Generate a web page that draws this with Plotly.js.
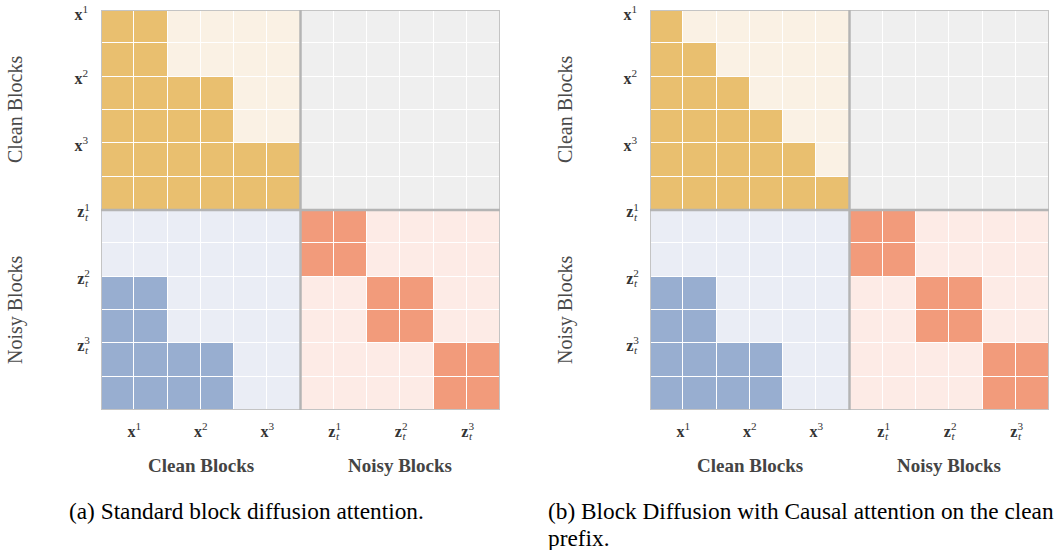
<!DOCTYPE html>
<html>
<head>
<meta charset="utf-8">
<script src="https://cdn.plot.ly/plotly-3.0.1.min.js"></script>
<style>html,body{margin:0;padding:0;background:#fff;}#chart{width:1058px;height:550px;}</style>
</head>
<body>
<div id="chart"></div>
<script>
// Cell codes: 0 = clean->noisy (no attention), 1 = clean masked, 2 = clean attended,
// 3 = noisy->clean masked, 4 = noisy->clean attended, 5 = noisy->noisy masked, 6 = noisy->noisy attended
const maskA = [
  [2,2,1,1,1,1, 0,0,0,0,0,0],
  [2,2,1,1,1,1, 0,0,0,0,0,0],
  [2,2,2,2,1,1, 0,0,0,0,0,0],
  [2,2,2,2,1,1, 0,0,0,0,0,0],
  [2,2,2,2,2,2, 0,0,0,0,0,0],
  [2,2,2,2,2,2, 0,0,0,0,0,0],
  [3,3,3,3,3,3, 6,6,5,5,5,5],
  [3,3,3,3,3,3, 6,6,5,5,5,5],
  [4,4,3,3,3,3, 5,5,6,6,5,5],
  [4,4,3,3,3,3, 5,5,6,6,5,5],
  [4,4,4,4,3,3, 5,5,5,5,6,6],
  [4,4,4,4,3,3, 5,5,5,5,6,6]
];
const maskB = [
  [2,1,1,1,1,1, 0,0,0,0,0,0],
  [2,2,1,1,1,1, 0,0,0,0,0,0],
  [2,2,2,1,1,1, 0,0,0,0,0,0],
  [2,2,2,2,1,1, 0,0,0,0,0,0],
  [2,2,2,2,2,1, 0,0,0,0,0,0],
  [2,2,2,2,2,2, 0,0,0,0,0,0],
  [3,3,3,3,3,3, 6,6,5,5,5,5],
  [3,3,3,3,3,3, 6,6,5,5,5,5],
  [4,4,3,3,3,3, 5,5,6,6,5,5],
  [4,4,3,3,3,3, 5,5,6,6,5,5],
  [4,4,4,4,3,3, 5,5,5,5,6,6],
  [4,4,4,4,3,3, 5,5,5,5,6,6]
];
const cellIndex = [0,1,2,3,4,5,6,7,8,9,10,11];
const codeColors = ['#efefef','#faf1e4','#e9bf6f','#eaedf5','#98aed0','#fdebe6','#f29b7b'];
const blockTickText = [
  '<b>x</b><sup>1</sup>', '<b>x</b><sup>2</sup>', '<b>x</b><sup>3</sup>',
  '<b>z</b><sup><span style="letter-spacing:-5px">1</span></sup><sub><i>t</i></sub>',
  '<b>z</b><sup><span style="letter-spacing:-5px">2</span></sup><sub><i>t</i></sub>',
  '<b>z</b><sup><span style="letter-spacing:-5px">3</span></sup><sub><i>t</i></sub>'
];
const xTickVals = [0.5, 2.5, 4.5, 6.5, 8.5, 10.5];
const yTickVals = [-0.38, 1.55, 3.55, 5.55, 7.55, 9.55];
const groupLabels = ['Clean Blocks', 'Noisy Blocks'];
const groupCenters = [2.5, 8.5];
const captionA = ['(a) Standard block diffusion attention.'];
const captionB = ['(b) Block Diffusion with Causal attention on the clean', 'prefix.'];

const W = 1058, H = 550;
const SERIF = '"Liberation Serif", "Times New Roman", Times, serif';
const colorscale = codeColors.map((c, i) => [i / (codeColors.length - 1), c]);

function hm(z, xa, ya) {
  return {
    type: 'heatmap', z: z, x: cellIndex, y: cellIndex,
    xaxis: xa, yaxis: ya, zmin: 0, zmax: codeColors.length - 1,
    colorscale: colorscale, showscale: false, xgap: 1, ygap: 1, hoverinfo: 'skip'
  };
}

const tickFont = {family: SERIF, size: 16, color: '#333'};
function xax(domain, anchor) {
  return {domain: domain, anchor: anchor, range: [-0.5, 11.5], tickvals: xTickVals, ticktext: blockTickText,
    showgrid: false, zeroline: false, ticks: '', tickfont: tickFont, ticklabelstandoff: 10, fixedrange: true};
}
function yax(domain, anchor) {
  return {domain: domain, anchor: anchor, range: [11.5, -0.5], tickvals: yTickVals, ticktext: blockTickText,
    showgrid: false, zeroline: false, ticks: '', tickfont: tickFont, ticklabelstandoff: 12, fixedrange: true};
}

const yDom = [1 - 410 / H, 1 - 10 / H];
const layout = {
  width: W, height: H, margin: {l: 0, r: 0, t: 0, b: 0},
  paper_bgcolor: '#fff', plot_bgcolor: '#fff', showlegend: false,
  font: {family: SERIF},
  xaxis: xax([101 / W, 500 / W], 'y'),
  yaxis: yax(yDom, 'x'),
  xaxis2: xax([650 / W, 1049 / W], 'y2'),
  yaxis2: yax(yDom, 'x2'),
  shapes: [], annotations: []
};

[['x', 'y'], ['x2', 'y2']].forEach(([xr, yr], p) => {
  layout.shapes.push({type: 'rect', xref: xr, yref: yr, x0: -0.5, x1: 11.5, y0: -0.5, y1: 11.5,
    line: {color: '#c4c4c4', width: 2}, layer: 'above'});
  layout.shapes.push({type: 'line', xref: xr, yref: yr, x0: 5.5, x1: 5.5, y0: -0.5, y1: 11.5,
    line: {color: '#b4b4b4', width: 2.5}, layer: 'above'});
  layout.shapes.push({type: 'line', xref: xr, yref: yr, x0: -0.5, x1: 11.5, y0: 5.5, y1: 5.5,
    line: {color: '#b4b4b4', width: 2.5}, layer: 'above'});
  const sideX = (p === 0 ? 15 : 565) / W;
  groupLabels.forEach((g, i) => {
    layout.annotations.push({xref: 'paper', yref: yr, x: sideX, y: groupCenters[i], text: g, textangle: -90,
      showarrow: false, xanchor: 'center', yanchor: 'middle',
      font: {family: SERIF, size: 20, color: '#4a4a4a'}});
    layout.annotations.push({xref: xr, yref: 'paper', x: groupCenters[i], y: 1 - 465 / H, text: '<b>' + g + '</b>',
      showarrow: false, xanchor: 'center', yanchor: 'middle',
      font: {family: SERIF, size: 19, color: '#444'}});
  });
  const lines = p === 0 ? captionA : captionB;
  lines.forEach((t, k) => {
    layout.annotations.push({xref: 'paper', yref: 'paper', x: (p === 0 ? 68 : 547) / W, y: 1 - (511 + 27 * k) / H,
      text: t, showarrow: false, xanchor: 'left', yanchor: 'middle', align: 'left', borderpad: 0,
      font: {family: SERIF, size: 23.3, color: '#000'}});
  });
});

Plotly.newPlot('chart', [hm(maskA, 'x', 'y'), hm(maskB, 'x2', 'y2')], layout, {displayModeBar: false, staticPlot: true});
</script>
</body>
</html>
